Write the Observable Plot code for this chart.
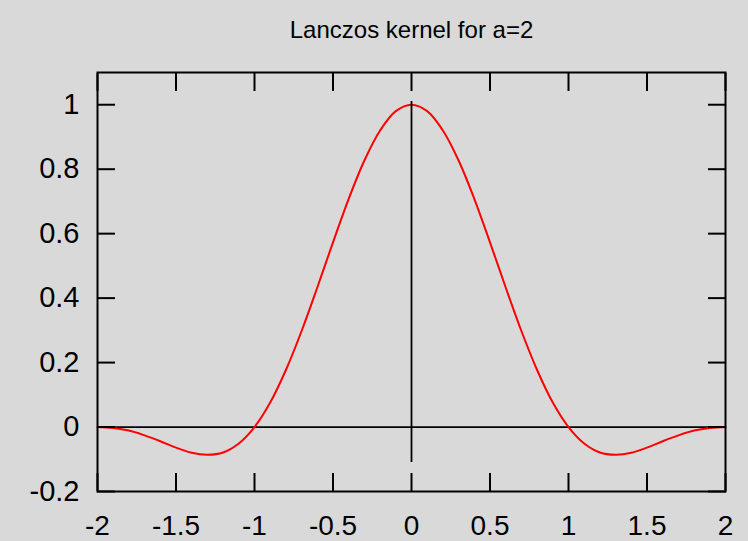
<!DOCTYPE html>
<html><head><meta charset="utf-8">
<script src="https://cdn.jsdelivr.net/npm/d3@7"></script>
<script src="https://cdn.jsdelivr.net/npm/@observablehq/plot@0.6"></script>
<style>
html,body{margin:0;padding:0;background:#d9d9d9;}
</style></head><body><div id="chart"></div>
<script>
const title = "Lanczos kernel for a=2";
const xValues = [-2,-1.9,-1.8,-1.7,-1.6,-1.5,-1.4,-1.3,-1.2,-1.1,-1,-0.9,-0.8,-0.7,-0.6,-0.5,-0.4,-0.3,-0.2,-0.1,
  0,0.1,0.2,0.3,0.4,0.5,0.6,0.7,0.8,0.9,1,1.1,1.2,1.3,1.4,1.5,1.6,1.7,1.8,1.9,2];
const kernelValues = [0,-0.003,-0.011,-0.026,-0.044,-0.064,-0.080,-0.086,-0.079,-0.051,0,0.076,0.177,0.298,0.433,0.573,0.708,0.827,0.920,0.980,
  1,0.980,0.920,0.827,0.708,0.573,0.433,0.298,0.177,0.076,0,-0.051,-0.079,-0.086,-0.080,-0.064,-0.044,-0.026,-0.011,-0.003,0];
const xTicks = [-2,-1.5,-1,-0.5,0,0.5,1,1.5,2];
const yTicks = [-0.2,0,0.2,0.4,0.6,0.8,1];
const zeroAxisSpan = [-0.11, 1.01];

const data = xValues.map((x, i) => ({x, y: kernelValues[i]}));
const fmt = d => String(d);
const blank = () => "";

const chart = Plot.plot({
  width: 748, height: 541,
  marginLeft: 97, marginRight: 23, marginTop: 72, marginBottom: 50,
  style: {background: "#d9d9d9", fontFamily: "'Liberation Sans', Arial, sans-serif", color: "black", overflow: "visible"},
  x: {domain: [-2, 2], axis: null},
  y: {domain: [-0.2, 1.1], axis: null},
  marks: [
    Plot.ruleY([0], {stroke: "black", strokeWidth: 1.8}),
    Plot.line(data, {x: "x", y: "y", stroke: "#ff0000", strokeWidth: 2, curve: "catmull-rom"}),
    Plot.ruleX([0], {y1: zeroAxisSpan[0], y2: zeroAxisSpan[1], stroke: "black", strokeWidth: 1.8}),
    Plot.axisX(xTicks, {anchor: "bottom", tickSize: -18, tickFormat: blank, strokeWidth: 2, label: null}),
    Plot.axisX(xTicks, {anchor: "top", tickSize: -18, tickFormat: blank, strokeWidth: 2, label: null}),
    Plot.axisY(yTicks, {anchor: "left", tickSize: -18, tickFormat: blank, strokeWidth: 2, label: null}),
    Plot.axisY(yTicks, {anchor: "right", tickSize: -18, tickFormat: blank, strokeWidth: 2, label: null}),
    Plot.axisX(xTicks, {anchor: "bottom", tickSize: 0, tickPadding: 24, tickFormat: fmt, fontSize: 28, label: null}),
    Plot.axisY(yTicks, {anchor: "left", tickSize: 0, tickPadding: 18, tickFormat: fmt, fontSize: 29, label: null}),
    Plot.frame({stroke: "black", strokeWidth: 2}),
    Plot.text([title], {text: d => d, frameAnchor: "top", dy: -52, fontSize: 24})
  ]
});
document.getElementById("chart").appendChild(chart);
</script></body></html>
